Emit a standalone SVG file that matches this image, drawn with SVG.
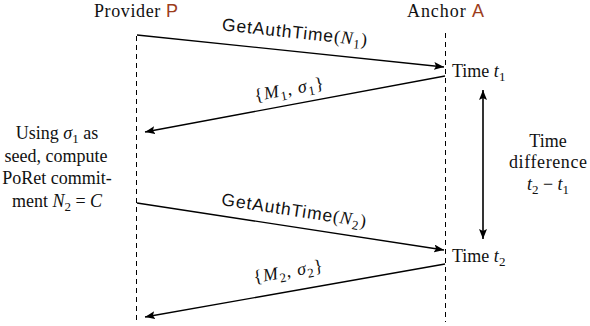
<svg xmlns="http://www.w3.org/2000/svg" width="590" height="326" viewBox="0 0 590 326">
<defs>
<marker id="ah" viewBox="0 0 10 8" refX="10" refY="4" markerWidth="10" markerHeight="8" markerUnits="userSpaceOnUse" orient="auto-start-reverse">
<path d="M0,0 L10,4 L0,8 L2,4 Z" fill="#000"/>
</marker>
</defs>
<style>
text{font-family:"Liberation Serif","Times New Roman",serif;font-size:18px;fill:#111}
.sans{font-family:"Liberation Sans","DejaVu Sans",sans-serif;font-size:17.5px}
.m{font-style:italic}
.sub{font-size:13px}
.red{fill:#9c3d1c;font-family:"Liberation Sans","DejaVu Sans",sans-serif}
.life{stroke:#000;stroke-width:1;stroke-dasharray:5,4;fill:none}
.msg{stroke:#000;stroke-width:1.3;fill:none;marker-end:url(#ah)}
.mid{text-anchor:middle}
</style>
<g id="provider">
<text x="94" y="17" textLength="84">Provider <tspan class="red">P</tspan></text>
<line class="life" x1="136.5" y1="36" x2="136.5" y2="323"/>
</g>
<g id="anchor">
<text x="407" y="17" textLength="77">Anchor <tspan class="red">A</tspan></text>
<line class="life" x1="445.5" y1="33" x2="445.5" y2="322"/>
</g>
<g id="note-left">
<text class="mid" x="57" y="139">Using <tspan class="m">σ</tspan><tspan class="sub" dy="4">1</tspan><tspan dy="-4">  as</tspan></text>
<text class="mid" x="56" y="162">seed, compute</text>
<text class="mid" x="57" y="184">PoRet commit-</text>
<text class="mid" x="57" y="207">ment <tspan class="m">N</tspan><tspan class="sub" dy="4">2</tspan><tspan dy="-4"> = </tspan><tspan class="m">C</tspan></text>
</g>
<g id="time1">
<text x="452" y="77">Time <tspan class="m">t</tspan><tspan class="sub" dy="4">1</tspan></text>
</g>
<g id="time2">
<text x="452" y="262">Time <tspan class="m">t</tspan><tspan class="sub" dy="4">2</tspan></text>
</g>
<g id="time-diff">
<text class="mid" x="548" y="147">Time</text>
<text class="mid" x="548" y="168" textLength="78">difference</text>
<text class="mid" x="548" y="190"><tspan class="m">t</tspan><tspan class="sub" dy="4">2</tspan><tspan dy="-4"> − </tspan><tspan class="m">t</tspan><tspan class="sub" dy="4">1</tspan></text>
</g>
<g id="connectors">
<line class="msg" x1="137" y1="35" x2="444" y2="67"/>
<line class="msg" x1="445" y1="76" x2="145" y2="132"/>
<line class="msg" x1="137" y1="203" x2="444" y2="250"/>
<line class="msg" x1="445" y1="264" x2="145" y2="317"/>
<line x1="483" y1="90" x2="483" y2="239" stroke="#000" stroke-width="1.6" marker-start="url(#ah)" marker-end="url(#ah)"/>
<text transform="translate(294,38) rotate(6.1)" class="mid" textLength="146"><tspan class="sans">GetAuthTime</tspan>(<tspan class="m">N</tspan><tspan class="sub" dy="4">1</tspan><tspan dy="-4">)</tspan></text>
<text transform="translate(290,95) rotate(-10.5)" class="mid" textLength="70">{<tspan class="m">M</tspan><tspan class="sub" dy="4">1</tspan><tspan dy="-4">, </tspan><tspan class="m">σ</tspan><tspan class="sub" dy="4">1</tspan><tspan dy="-4">}</tspan></text>
<text transform="translate(293,216) rotate(8.7)" class="mid" textLength="146"><tspan class="sans">GetAuthTime</tspan>(<tspan class="m">N</tspan><tspan class="sub" dy="4">2</tspan><tspan dy="-4">)</tspan></text>
<text transform="translate(289,277) rotate(-10)" class="mid" textLength="70">{<tspan class="m">M</tspan><tspan class="sub" dy="4">2</tspan><tspan dy="-4">, </tspan><tspan class="m">σ</tspan><tspan class="sub" dy="4">2</tspan><tspan dy="-4">}</tspan></text>
</g>
</svg>
